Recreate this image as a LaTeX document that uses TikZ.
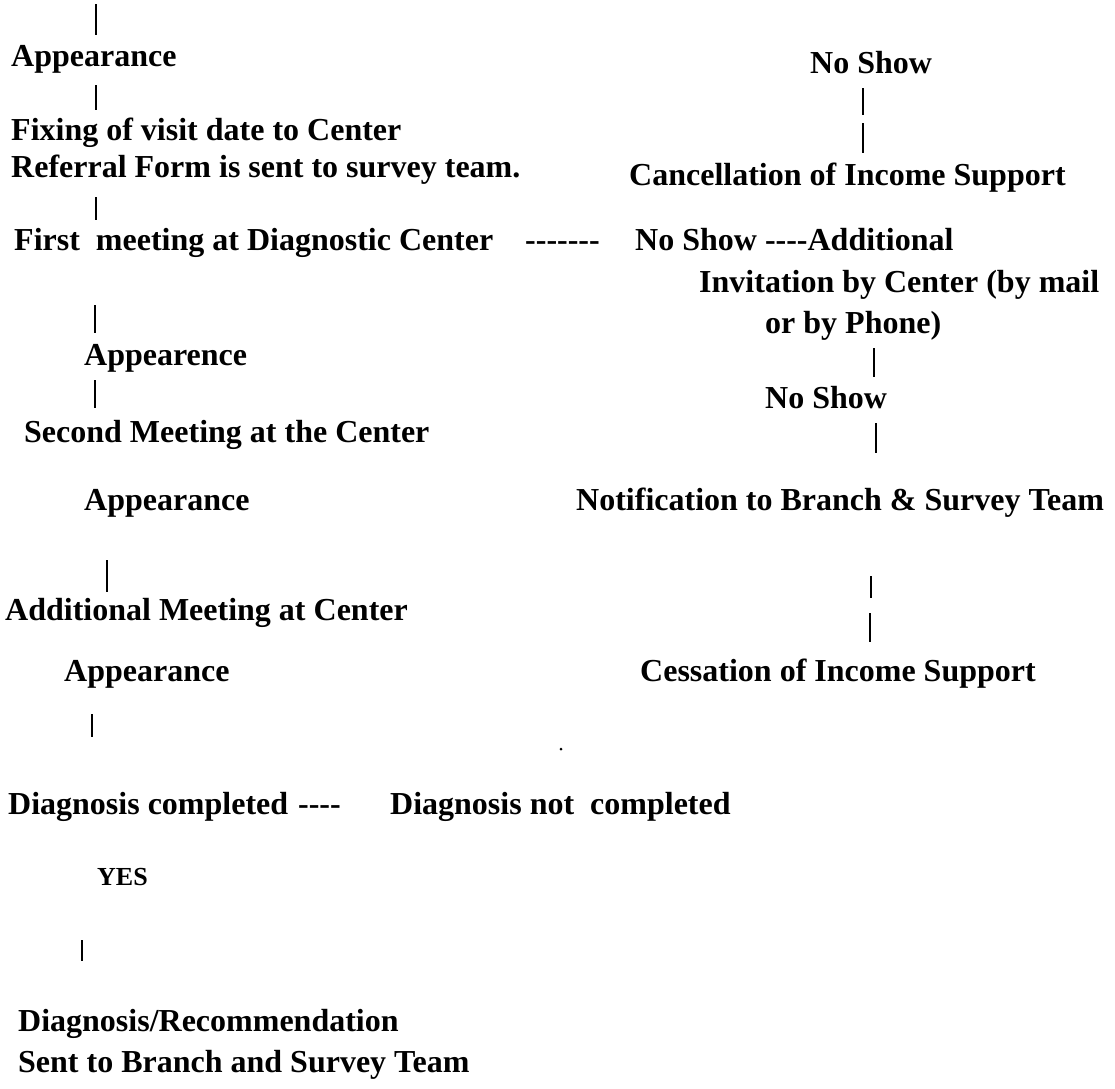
\documentclass[tikz,border=0pt]{standalone}
\usepackage{fontspec}
\setmainfont{Liberation Serif}
\begin{document}
\begin{tikzpicture}[x=1pt,y=-1pt,
  txt/.style={anchor=base west, inner sep=0pt, font=\fontsize{32}{39}\selectfont\bfseries},
  small/.style={anchor=base west, inner sep=0pt, font=\fontsize{26}{31}\selectfont\bfseries},
  bar/.style={line width=1.6pt, black}]
\useasboundingbox (0,0) rectangle (1115,1088);
% left column
\node[txt] (app1) at (11,66) {Appearance};
\node[txt] (fix) at (11,140) {Fixing of visit date to Center};
\node[txt] (ref) at (11,177) {Referral Form is sent to survey team.};
\node[txt] (first) at (14,250) {First\ \ meeting at Diagnostic Center\hspace{32pt}-{}-{}-{}-{}-{}-{}-};
\node[txt] (app2) at (84,365) {Appearence};
\node[txt] (second) at (24,442) {Second Meeting at the Center};
\node[txt] (app3) at (84,510) {Appearance};
\node[txt] (addm) at (5,620) {Additional Meeting at Center};
\node[txt] (app4) at (64,681) {Appearance};
\node[txt] (dc) at (8,814) {Diagnosis completed\hspace{10pt}-{}-{}-{}-};
\node[txt] (dnc) at (390,814) {Diagnosis not\ \ completed};
\node[small] (yes) at (97,885) {YES};
\node[txt] (dr) at (18,1031) {Diagnosis/Recommendation};
\node[txt] (sent) at (18,1072) {Sent to Branch and Survey Team};
% right column
\node[txt] (ns1) at (810,73) {No Show};
\node[txt] (canc) at (629,185) {Cancellation of Income Support};
\node[txt] (ns2) at (635,250) {No Show -{}-{}-{}-Additional};
\node[txt] (inv) at (699,292) {Invitation by Center (by mail};
\node[txt] (phone) at (765,333) {or by Phone)};
\node[txt] (ns3) at (765,408) {No Show};
\node[txt] (notif) at (576,510) {Notification to Branch \& Survey Team};
\node[txt] (cess) at (640,681) {Cessation of Income Support};
% bar end points
\coordinate (b1a) at (96,4);    \coordinate (b1b) at (96,35);
\coordinate (b2a) at (96,85);   \coordinate (b2b) at (96,110);
\coordinate (b3a) at (96,197);  \coordinate (b3b) at (96,220);
\coordinate (b4a) at (95,305);  \coordinate (b4b) at (95,333);
\coordinate (b5a) at (95,380);  \coordinate (b5b) at (95,408);
\coordinate (b6a) at (107,560); \coordinate (b6b) at (107,592);
\coordinate (b7a) at (92,714);  \coordinate (b7b) at (92,737);
\coordinate (b8a) at (82,940);  \coordinate (b8b) at (82,961);
\coordinate (r1a) at (863,88);  \coordinate (r1b) at (863,115);
\coordinate (r2a) at (863,123); \coordinate (r2b) at (863,153);
\coordinate (r3a) at (874,348); \coordinate (r3b) at (874,377);
\coordinate (r4a) at (876,423); \coordinate (r4b) at (876,453);
\coordinate (r5a) at (871,576); \coordinate (r5b) at (871,598);
\coordinate (r6a) at (870,613); \coordinate (r6b) at (870,642);
\foreach \b in {b1,b2,b3,b4,b5,b6,b7,b8,r1,r2,r3,r4,r5,r6}
  \draw[bar] (\b a) -- (\b b);
\fill (561,749) circle (1.5pt);
\end{tikzpicture}
\end{document}
